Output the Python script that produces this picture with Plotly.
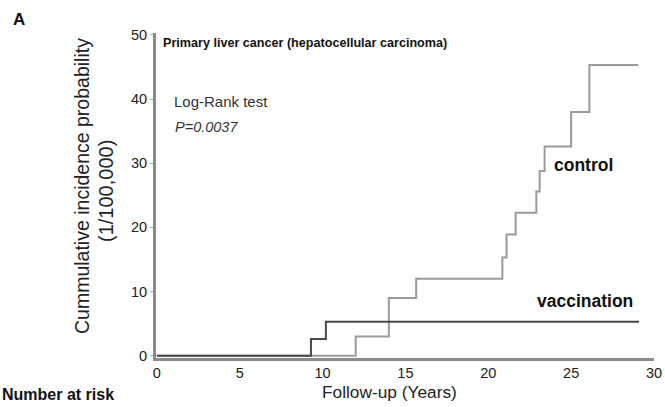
import plotly.graph_objects as go

# Control group step curve (time in years, cumulative incidence per 100,000)
control_t = [0, 12.0, 14.0, 15.65, 20.85, 21.1, 21.65, 22.9, 23.1, 23.4, 25.0, 26.1, 29.05]
control_y = [0, 3.0, 9.0, 12.0, 15.3, 18.9, 22.3, 25.6, 28.8, 32.6, 38.0, 45.3, 45.3]

# Vaccination group step curve
vacc_t = [0, 9.3, 10.2, 29.1]
vacc_y = [0, 2.6, 5.3, 5.3]

x_ticks = [0, 5, 10, 15, 20, 25, 30]
y_ticks = [0, 10, 20, 30, 40, 50]

FONT = "Liberation Sans, Arial, sans-serif"

fig = go.Figure()
fig.add_trace(go.Scatter(x=control_t, y=control_y, mode="lines",
                         line=dict(shape="hv", color="#9a9a9a", width=2),
                         showlegend=False))
fig.add_trace(go.Scatter(x=vacc_t, y=vacc_y, mode="lines",
                         line=dict(shape="hv", color="#4a4a4a", width=2),
                         showlegend=False))

L, W, T, H = 156, 498, 33, 325


def px(x):
    return (x - L) / W


def py(y):
    return (T + H - y) / H


ann = []


def add(text, x, y, size, xanchor="left", bold=False, italic=False, angle=0, color="#111"):
    if bold:
        text = "<b>" + text + "</b>"
    if italic:
        text = "<i>" + text + "</i>"
    ann.append(dict(text=text, xref="paper", yref="paper", x=px(x), y=py(y),
                    xanchor=xanchor, yanchor="middle", showarrow=False,
                    textangle=angle, font=dict(family=FONT, size=size, color=color)))


add("A", 11, 19, 17, bold=True)
add("Primary liver cancer (hepatocellular carcinoma)", 161, 43, 12.6, bold=True)
add("Log-Rank test", 172, 101, 15, color="#333")
add("P=0.0037", 173, 127, 14.5, italic=True, color="#333")
add("control", 552, 165, 17.5, bold=True)
add("vaccination", 535, 301, 17.5, bold=True)
add("Number at risk", 0, 394, 16, bold=True)
add("Follow-up (Years)", 389, 392, 17.3, xanchor="center", color="#222")
add("Cummulative incidence probability", 82, 186, 19.5, xanchor="center", angle=-90, color="#222")
add("(1/100,000)", 106, 191, 20, xanchor="center", angle=-90, color="#222")

fig.update_layout(
    width=665, height=407,
    margin=dict(l=L, r=665 - L - W, t=T, b=407 - T - H),
    plot_bgcolor="white", paper_bgcolor="white",
    annotations=ann,
    xaxis=dict(range=[-0.05, 30], tickvals=x_ticks, showgrid=False, zeroline=False,
               showline=True, linecolor="#8a8a8a", linewidth=3, automargin=False,
               ticks="", tickfont=dict(family=FONT, size=14.5, color="#222")),
    yaxis=dict(range=[-0.35, 50.3], tickvals=y_ticks, showgrid=False, zeroline=False,
               showline=True, linecolor="#8a8a8a", linewidth=3, automargin=False,
               ticks="outside", ticklen=3, tickcolor="#aaa",
               tickfont=dict(family=FONT, size=14.5, color="#222")),
)

fig.write_html("out.html", config={"displayModeBar": False},
               post_script="document.body.style.margin='0px';document.body.style.overflow='hidden';")
